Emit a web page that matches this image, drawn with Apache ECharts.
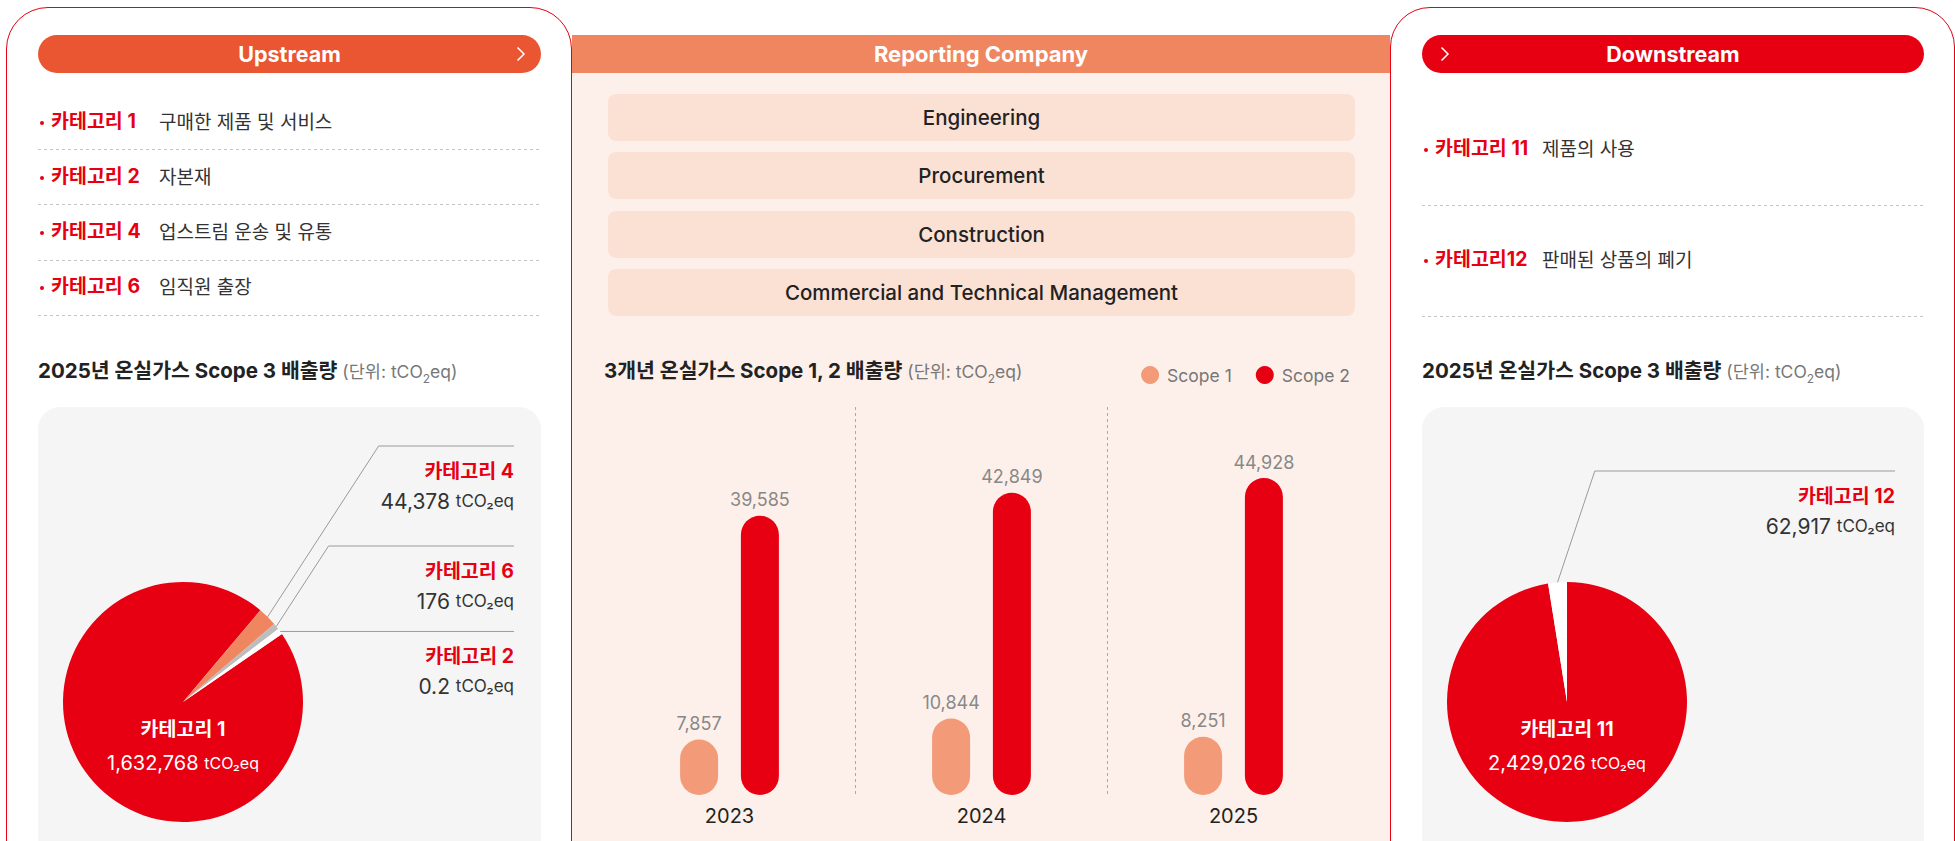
<!DOCTYPE html>
<html><head><meta charset="utf-8">
<script src="https://cdn.jsdelivr.net/npm/echarts@6/dist/echarts.min.js"></script>
<style>
html,body{margin:0;padding:0;width:1955px;height:841px;overflow:hidden;background:#fff;font-family:Inter,"Noto Sans CJK KR",sans-serif;}
.abs{position:absolute;}
.mid{position:absolute;transform:translateY(-50%);line-height:1;white-space:nowrap;}
.panel{position:absolute;top:7px;height:900px;border:1px solid #E60012;background:#fff;box-sizing:border-box;}
.pill{position:absolute;top:35px;height:38px;border-radius:19px;color:#fff;font-weight:700;font-size:21.5px;line-height:38px;text-align:center;}
.dot{position:absolute;width:4px;height:4px;border-radius:2px;background:#E60012;}
.cat{font-size:19.5px;font-weight:700;color:#E60012;}
.desc{font-size:19px;font-weight:400;color:#333;}
.dash{position:absolute;height:1px;background-image:linear-gradient(to right,#c4c4c4 50%,transparent 50%);background-size:6px 1px;}
.title{font-size:20.5px;font-weight:700;color:#222;}
.unit{font-size:17.5px;font-weight:400;color:#777;}
.grey{position:absolute;top:407px;height:500px;border-radius:22px;background:#F5F5F5;}
.box{position:absolute;left:608px;width:747px;height:47px;border-radius:8px;background:#FBE1D4;font-size:20.5px;font-weight:500;color:#222;text-align:center;line-height:47px;}
#chart{position:absolute;left:0;top:0;width:1955px;height:841px;z-index:5;}
</style></head><body>

<!-- middle panel -->
<div class="abs" style="left:572px;top:35px;width:818px;height:38px;background:#F08660;color:#fff;font-weight:700;font-size:22px;line-height:38px;text-align:center;">Reporting Company</div>
<div class="abs" style="left:572px;top:73px;width:818px;height:768px;background:#FDF0EA;"></div>
<div class="box" style="top:94px">Engineering</div>
<div class="box" style="top:152px">Procurement</div>
<div class="box" style="top:211px">Construction</div>
<div class="box" style="top:269px">Commercial and Technical Management</div>
<div class="mid title" style="left:604px;top:373px">3개년 온실가스 Scope 1, 2 배출량 <span class="unit">(단위: tCO<sub style="font-size:12px">2</sub>eq)</span></div>

<!-- left panel -->
<div class="panel" style="left:6px;width:566px;border-radius:42px 42px 0 0;"></div>
<div class="pill" style="left:38px;width:503px;background:#EA5532;">Upstream</div>
<svg class="abs" style="left:516px;top:46px" width="10" height="16"><polyline points="1.5,1.5 8,8 1.5,14.5" fill="none" stroke="#fff" stroke-width="1.5"/></svg>

<div class="dot" style="left:40px;top:121px"></div><div class="mid cat" style="left:51px;top:122px">카테고리 1</div><div class="mid desc" style="left:159px;top:122px">구매한 제품 및 서비스</div>
<div class="dash" style="left:38px;top:149px;width:503px"></div>
<div class="dot" style="left:40px;top:176px"></div><div class="mid cat" style="left:51px;top:177px">카테고리 2</div><div class="mid desc" style="left:159px;top:177px">자본재</div>
<div class="dash" style="left:38px;top:204px;width:503px"></div>
<div class="dot" style="left:40px;top:231px"></div><div class="mid cat" style="left:51px;top:232px">카테고리 4</div><div class="mid desc" style="left:159px;top:232px">업스트림 운송 및 유통</div>
<div class="dash" style="left:38px;top:260px;width:503px"></div>
<div class="dot" style="left:40px;top:286px"></div><div class="mid cat" style="left:51px;top:287px">카테고리 6</div><div class="mid desc" style="left:159px;top:287px">임직원 출장</div>
<div class="dash" style="left:38px;top:315px;width:503px"></div>
<div class="mid title" style="left:38px;top:373px">2025년 온실가스 Scope 3 배출량 <span class="unit">(단위: tCO<sub style="font-size:12px">2</sub>eq)</span></div>
<div class="grey" style="left:38px;width:503px;"></div>

<!-- right panel -->
<div class="panel" style="left:1390px;width:565px;border-radius:40px 40px 0 0;"></div>
<div class="pill" style="left:1422px;width:502px;background:#E60012;">Downstream</div>
<svg class="abs" style="left:1440px;top:46px" width="10" height="16"><polyline points="1.5,1.5 8,8 1.5,14.5" fill="none" stroke="#fff" stroke-width="1.5"/></svg>
<div class="dot" style="left:1424px;top:148px"></div><div class="mid cat" style="left:1435px;top:149px">카테고리 11</div><div class="mid desc" style="left:1542px;top:149px">제품의 사용</div>
<div class="dash" style="left:1422px;top:205px;width:502px"></div>
<div class="dot" style="left:1424px;top:259px"></div><div class="mid cat" style="left:1435px;top:260px">카테고리12</div><div class="mid desc" style="left:1542px;top:260px">판매된 상품의 폐기</div>
<div class="dash" style="left:1422px;top:316px;width:502px"></div>
<div class="mid title" style="left:1422px;top:373px">2025년 온실가스 Scope 3 배출량 <span class="unit">(단위: tCO<sub style="font-size:12px">2</sub>eq)</span></div>
<div class="grey" style="left:1422px;width:502px;"></div>

<div id="chart"></div>
<script>
// ---- data ----
const years = ['2023', '2024', '2025'];
const scope1 = [7857, 10844, 8251];
const scope2 = [39585, 42849, 44928];
const upstreamNames = ['카테고리 1', '카테고리 4', '카테고리 6', '카테고리 2'];
const upstreamValues = [1632768, 44378, 176, 0.2];
const downstreamNames = ['카테고리 11', '카테고리 12'];
const downstreamValues = [2429026, 62917];
// ---- style ----
const RED = '#E60012';
const upColors = [RED, '#F08660', '#BDBDBD', '#FFFFFF'];
const downColors = [RED, '#FFFFFF'];
const FONT = 'Inter, "Noto Sans CJK KR", sans-serif';
const fmt = v => Number(v).toLocaleString('en-US');

const LP = { cx: 183, cy: 702 };
const RP = { cx: 1567, cy: 702 };
const upLineY = [null, 446, 546, null];
const downLineY = [null, 471];

const rich = {
  n: { fontSize: 19.5, fontWeight: 700, color: RED, lineHeight: 30, fontFamily: FONT },
  v: { fontSize: 21, color: '#333', lineHeight: 30, fontFamily: FONT },
  u: { fontSize: 17, color: '#333', lineHeight: 30, fontFamily: FONT },
  wn: { fontSize: 19.5, fontWeight: 700, color: '#fff', lineHeight: 34, fontFamily: FONT },
  wv: { fontSize: 20, color: '#fff', lineHeight: 34, fontFamily: FONT },
  wu: { fontSize: 16, color: '#fff', lineHeight: 34, fontFamily: FONT }
};
function pieFormatter(p) {
  if (p.dataIndex === 0) return '{wn|' + p.name + '}\n{wv|' + fmt(p.value) + ' }{wu|tCO₂eq}';
  return '{n|' + p.name + '}\n{v|' + fmt(p.value) + ' }{u|tCO₂eq}';
}
function makeLayout(center, lineY, endX, ratio) {
  return function (p) {
    const i = p.dataIndex;
    if (i === 0) return { x: center.cx, y: center.cy + 44, align: 'center', verticalAlign: 'middle' };
    const p0 = p.labelLinePoints[0];
    const ly = lineY[i] == null ? p0[1] : lineY[i];
    const ex = p0[0] + (p0[1] - ly) * ratio;
    return { x: endX, y: ly + 10, align: 'right', verticalAlign: 'top',
      labelLinePoints: [[p0[0], p0[1]], [ex, ly], [endX, ly]] };
  };
}
function pieData(names, values, colors) {
  return names.map((n, i) => ({
    name: n, value: values[i], itemStyle: { color: colors[i] },
    labelLine: { show: i !== 0 },
    label: { align: i === 0 ? 'center' : 'right' }
  }));
}

const chart = echarts.init(document.getElementById('chart'), null, { renderer: 'svg' });
chart.setOption({
  animation: false,
  textStyle: { fontFamily: FONT },
  legend: {
    data: ['Scope 1', 'Scope 2'], right: 600, top: 361, icon: 'circle',
    itemWidth: 18, itemHeight: 18, itemGap: 24,
    textStyle: { fontSize: 17.5, color: '#777', padding: [0, 0, 0, 3], fontFamily: FONT }
  },
  grid: { left: 603.5, width: 756, top: 407, height: 388 },
  xAxis: {
    type: 'category', data: years,
    axisLine: { show: false }, axisTick: { show: false },
    axisLabel: { fontSize: 20, color: '#222', margin: 11, fontFamily: FONT },
    splitLine: { show: true, showMinLine: false, showMaxLine: false,
      lineStyle: { color: '#aaa', type: [3, 3], width: 1 } }
  },
  yAxis: { type: 'value', min: 0, max: 55000, show: false, splitLine: { show: false } },
  series: [
    { name: 'Scope 1', type: 'bar', data: scope1, barWidth: 38, barGap: '60%',
      itemStyle: { color: '#F39B78', borderRadius: 19 },
      label: { show: true, position: 'top', distance: 7, fontSize: 18, color: '#888', formatter: p => fmt(p.value) } },
    { name: 'Scope 2', type: 'bar', data: scope2, barWidth: 38, barGap: '60%',
      itemStyle: { color: RED, borderRadius: 19 },
      label: { show: true, position: 'top', distance: 7, fontSize: 18, color: '#888', formatter: p => fmt(p.value) } },
    { type: 'pie', center: [LP.cx, LP.cy], radius: 120, startAngle: 34.5, minAngle: 3,
      clockwise: true, avoidLabelOverlap: false, silent: true,
      itemStyle: { borderWidth: 0 },
      data: pieData(upstreamNames, upstreamValues, upColors),
      label: { show: true, position: 'outside', alignTo: 'none', overflow: 'none', formatter: pieFormatter, rich: rich },
      labelLine: { lineStyle: { color: '#9a9a9a', width: 1 } },
      labelLayout: makeLayout(LP, upLineY, 514, 0.65) },
    { type: 'pie', center: [RP.cx, RP.cy], radius: 120, startAngle: 90,
      clockwise: true, avoidLabelOverlap: false, silent: true,
      itemStyle: { borderWidth: 0 },
      data: pieData(downstreamNames, downstreamValues, downColors),
      label: { show: true, position: 'outside', alignTo: 'none', overflow: 'none', formatter: pieFormatter, rich: rich },
      labelLine: { lineStyle: { color: '#9a9a9a', width: 1 } },
      labelLayout: makeLayout(RP, downLineY, 1895, 0.335) }
  ]
});
</script>
</body></html>
